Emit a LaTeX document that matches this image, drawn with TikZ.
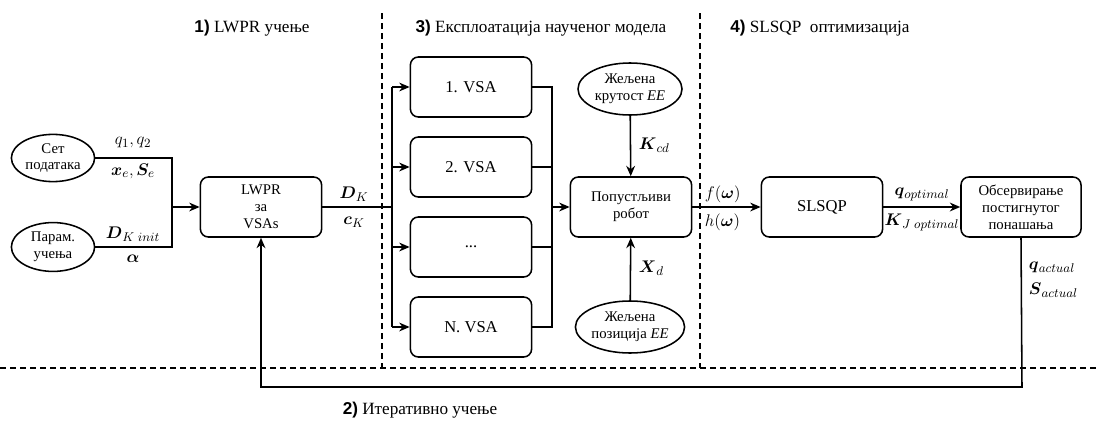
\documentclass[tikz,border=0pt]{standalone}
\usepackage{amsmath,bm}
\usepackage{fontspec}
\setmainfont{Liberation Serif}
\newfontfamily\headfont{Liberation Sans}
\usetikzlibrary{arrows.meta,shapes.geometric}
\newcommand{\head}[1]{{\headfont\bfseries #1}}
\newcommand{\sig}[1]{$\bm{#1}$}

\begin{document}
\begin{tikzpicture}[
      x=0.025cm, y=-0.025cm,
      font=\fontsize{10.5}{12}\selectfont,
      block/.style={draw,line width=1.1pt,rounded corners=0.2cm,minimum width=3.03cm,minimum height=1.5cm,align=center},
      source/.style={draw,line width=1.1pt,ellipse,inner sep=0pt,align=center},
      wire/.style={line width=1.1pt},
      flow/.style={line width=1.1pt,-{Stealth[length=2.6mm,width=2.2mm]}},
      border/.style={line width=1.1pt,dash pattern=on 1.5mm off 1mm},
      sig/.style={font=\fontsize{13}{15}\selectfont},
      title/.style={font=\fontsize{12.2}{14}\selectfont},
      big/.style={font=\fontsize{11.8}{14}\selectfont}
    ]
    \useasboundingbox (0,0) rectangle (1100,421);
    % Phase borders
    \draw [border](382,13) -- (382,368);
    \draw [border](700,13) -- (700,368);
    \draw [border](0,368) -- (1100,368);
    % Phase titles
    \node [title] (t1) at (252,28) {\head{1)} LWPR учење};
    \node [title] (t3) at (541,28) {\head{3)} Експлоатација наученог модела};
    \node [title] (t4) at (820,28) {\head{4)} SLSQP \ оптимизација};
    \node [title] (t2) at (420,410) {\head{2)} Итеративно учење};
    % 1) learning inputs
    \node [source,minimum width=2.08cm,minimum height=1.18cm] (data) at (53,158) {Сет\\података};
    \node [source,minimum width=2.08cm,minimum height=1.22cm] (param) at (53,247) {Парам.\\учења};
    \node [block] (lwpr) at (261,207) {LWPR\\за\\VSAs};
    \coordinate (join) at (172,207);
    \draw [wire](data.east) -| (join);
    \draw [wire](param.east) -| (join);
    \draw [flow](join) -- (lwpr.west);
    \node [sig] at (133,143) {$q_1, q_2$};
    \node [sig] at (133,171) {$\bm{x}_e, \bm{S}_e$};
    \node [sig] at (133,234) {\sig{D}$_{K\;init}$};
    \node [sig] at (133,259) {$\bm{\alpha}$};
    % 3) VSA models
    \node [block,big] (vsa1) at (471,87) {1. VSA};
    \node [block,big] (vsa2) at (471,167) {2. VSA};
    \node [block,big] (vsa3) at (471,247) {...};
    \node [block,big] (vsaN) at (471,327) {N. VSA};
    \coordinate (busL) at (392,207);
    \coordinate (busR) at (552,207);
    \draw [wire](lwpr.east) -- (busL);
    \draw [wire](busL |- vsa1) -- (busL |- vsaN);
    \draw [flow](busL |- vsa1) -- (vsa1.west);
    \draw [flow](busL |- vsa2) -- (vsa2.west);
    \draw [flow](busL |- vsa3) -- (vsa3.west);
    \draw [flow](busL |- vsaN) -- (vsaN.west);
    \draw [wire](vsa1.east) -| (busR |- vsaN) -- (vsaN.east);
    \draw [wire](vsa2.east) -- (busR |- vsa2);
    \draw [wire](vsa3.east) -- (busR |- vsa3);
    \node [sig] at (354,194) {\sig{D}$_K$};
    \node [sig] at (354,222) {\sig{c}$_K$};
    \node [block] (robot) at (631,207) {Попустљиви\\робот};
    \draw [flow](busR) -- (robot.west);
    \node [source,minimum width=2.6cm,minimum height=1.3cm] (stiff) at (630,89) {Жељена\\крутост \textit{EE}};
    \node [source,minimum width=2.6cm,minimum height=1.3cm] (pose) at (630,327) {Жељена\\позиција \textit{EE}};
    \draw [flow](stiff) -- (robot);
    \draw [flow](pose) -- (robot);
    \node [sig,right] at (634,145) {\sig{K}$_{cd}$};
    \node [sig,right] at (634,268) {\sig{X}$_d$};
    % 4) optimisation
    \node [block,big] (slsqp) at (822,207) {SLSQP};
    \node [block,minimum width=3cm] (observe) at (1021,207) {Обсервирање\\постигнутог\\понашања};
    \draw [flow](robot.east) -- (slsqp.west);
    \draw [flow](slsqp.east) -- (observe.west);
    \node [sig,right] at (700,194) {$f(\bm{\omega})$};
    \node [sig,right] at (700,222) {$h(\bm{\omega})$};
    \node [sig] at (922,194) {\sig{q}$_{optimal}$};
    \node [sig] at (922,222) {\sig{K}$_{J\;optimal}$};
    % 2) iterative learning loop
    \coordinate (back) at (1022,387);
    \draw [flow](observe.south) -- (back) -| (lwpr.south);
    \node [sig,right] at (1024,267) {\sig{q}$_{actual}$};
    \node [sig,right] at (1024,290) {\sig{S}$_{actual}$};
\end{tikzpicture}
\end{document}
